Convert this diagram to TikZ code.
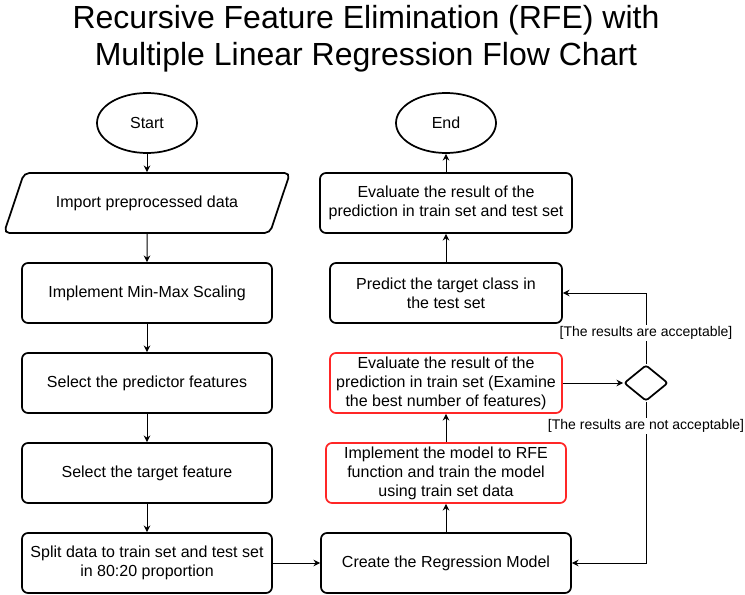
\documentclass[tikz,border=0pt]{standalone}
\usepackage{fontspec}
\setmainfont{Liberation Sans}
\usetikzlibrary{arrows.meta,positioning,shapes.geometric}

\begin{document}
\begin{tikzpicture}[
  x=0.75pt, y=-0.75pt,
  stepbox/.style={draw, rounded corners=4.5pt, line width=1.3pt, align=center, minimum width=187.5pt, minimum height=45pt, inner sep=2pt, font=\fontsize{12}{14.3}\selectfont},
  redbox/.style={stepbox, draw=red!85},
  term/.style={draw, ellipse, line width=1.3pt, minimum width=75pt, minimum height=45pt, inner sep=0pt, font=\fontsize{12}{14.3}\selectfont},
  io/.style={draw, trapezium, trapezium left angle=45, trapezium right angle=135, trapezium stretches=true, rounded corners=4pt, line width=1.3pt, minimum width=215pt, minimum height=45pt, inner sep=0pt, font=\fontsize{12}{14.3}\selectfont},
  decision/.style={draw, diamond, line width=1.3pt, minimum width=33pt, minimum height=27pt, inner sep=0pt, rounded corners=2pt},
  arr/.style={-{Stealth[length=5pt,width=5pt]}, line width=0.75pt},
  guard/.style={fill=white, inner sep=1pt, font=\fontsize{10.5}{12}\selectfont}
]
\useasboundingbox (0,0) rectangle (745,595);

\node[align=center, font=\fontsize{24}{28}\selectfont] (title) at (366,39)
  {Recursive Feature Elimination (RFE) with\\Multiple Linear Regression Flow Chart};

% left column
\node[term] (start) at (147,123) {Start};
\node[io] (import) at (147,203) {Import preprocessed data};
\node[stepbox] (scale) at (147,293) {Implement Min-Max Scaling};
\node[stepbox] (predictors) at (147,383) {Select the predictor features};
\node[stepbox] (target) at (147,473) {Select the target feature};
\node[stepbox] (split) at (147,563) {Split data to train set and test set\\in 80:20 proportion};

% right column
\node[stepbox] (create) at (446,563) {Create the Regression Model};
\node[redbox, minimum width=180pt] (rfe) at (446,473) {Implement the model to RFE\\function and train the model\\using train set data};
\node[redbox, minimum width=174pt] (evaltrain) at (446,383) {Evaluate the result of the\\prediction in train set (Examine\\the best number of features)};
\node[stepbox, minimum width=174pt] (predict) at (446,293) {Predict the target class in\\the test set};
\node[stepbox, minimum width=189pt] (evalall) at (446,203) {Evaluate the result of the\\prediction in train set and test set};
\node[term] (stop) at (446,123) {End};
\node[decision] (check) at (646,383) {};

\draw[arr] (start) -- (import);
\draw[arr] (import) -- (scale);
\draw[arr] (scale) -- (predictors);
\draw[arr] (predictors) -- (target);
\draw[arr] (target) -- (split);
\draw[arr] (split) -- (create);
\draw[arr] (create) -- (rfe);
\draw[arr] (rfe) -- (evaltrain);
\draw[arr] (evaltrain) -- (check);
\draw[arr] (check.north) |- node[guard, pos=0.22] {[The results are acceptable]} (predict.east);
\draw[arr] (check.south) |- node[guard, pos=0.075] {[The results are not acceptable]} (create.east);
\draw[arr] (predict) -- (evalall);
\draw[arr] (evalall) -- (stop);

\end{tikzpicture}
\end{document}
